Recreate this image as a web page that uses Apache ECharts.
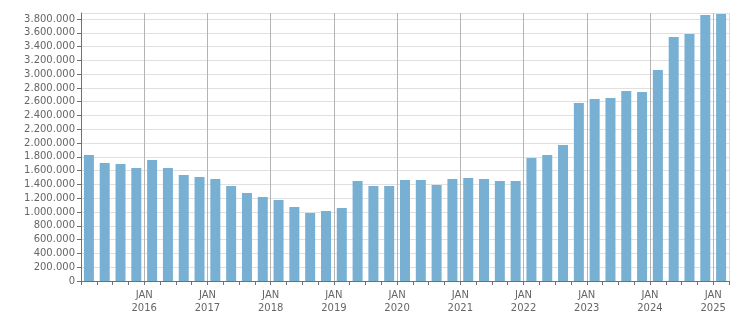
<!DOCTYPE html>
<html>
  <head>
    <meta charset="utf-8">
    <title>Quarterly bars</title>
    <style>
      html, body { margin: 0; padding: 0; background: #fff; }
      #main { width: 751px; height: 313px; }
    </style>
    <script src="https://cdn.jsdelivr.net/npm/echarts@6/dist/echarts.min.js"></script>
  </head>
  <body>
    <div id="main"></div>
    <script type="text/javascript">

      // quarters 2015 Q1 .. 2025 Q1
      var quarters = [
        '2015Q1','2015Q2','2015Q3','2015Q4',
        '2016Q1','2016Q2','2016Q3','2016Q4',
        '2017Q1','2017Q2','2017Q3','2017Q4',
        '2018Q1','2018Q2','2018Q3','2018Q4',
        '2019Q1','2019Q2','2019Q3','2019Q4',
        '2020Q1','2020Q2','2020Q3','2020Q4',
        '2021Q1','2021Q2','2021Q3','2021Q4',
        '2022Q1','2022Q2','2022Q3','2022Q4',
        '2023Q1','2023Q2','2023Q3','2023Q4',
        '2024Q1','2024Q2','2024Q3','2024Q4',
        '2025Q1'
      ]
      var values = [
        1827000, 1711000, 1697000, 1639000,
        1755000, 1639000, 1537000, 1508000,
        1479000, 1378000, 1276000, 1218000,
        1175000, 1073000, 986000, 1015000,
        1059000, 1450000, 1378000, 1378000,
        1465000, 1465000, 1392000, 1479000,
        1494000, 1479000, 1450000, 1450000,
        1784000, 1827000, 1972000, 2582000,
        2640000, 2654000, 2756000, 2741000,
        3060000, 3539000, 3582000, 3858000,
        3872000
      ]
      // year labels sit on the boundary before each year's first quarter
      var firstYear = 2015
      var yearMonth = 'JAN'

      var yMax = 3887000
      var yStep = 200000

      function dots(v) {
        return String(v).replace(/\B(?=(\d{3})+(?!\d))/g, '.')
      }

      var labelFont = { color: '#666', fontFamily: 'DejaVu Sans', fontSize: 10 }

      var yearLineColors = []
      for (var i = 0; i * 4 <= quarters.length; i++) yearLineColors.push('#b4b4b4')
      yearLineColors.push('#dcdcdc')

      var myChart = echarts.init(document.getElementById('main'))
      var option = {
        animation: false,
        grid: { left: 81, right: 22, top: 13, bottom: 32, outerBoundsMode: 'none', containLabel: false },
        xAxis: [
          {
            type: 'category',
            position: 'bottom',
            data: quarters,
            axisLine: { lineStyle: { color: '#707070' } },
            axisTick: { show: true, interval: 0, length: 4, lineStyle: { color: '#707070' } },
            axisLabel: { show: false },
            splitLine: { show: false }
          },
          {
            type: 'value',
            position: 'bottom',
            min: 0,
            max: quarters.length,
            interval: 4,
            axisLine: { show: false },
            axisTick: { show: false },
            axisLabel: Object.assign({
              margin: 8,
              lineHeight: 13,
              align: 'center',
              formatter: function (v) {
                if (v === 0 || v % 4 !== 0) return ''
                return yearMonth + '\n' + (firstYear + v / 4)
              }
            }, labelFont),
            splitLine: { show: true, lineStyle: { color: yearLineColors, width: 1 } }
          }
        ],
        yAxis: {
          type: 'value',
          min: 0,
          max: yMax,
          interval: yStep,
          axisLine: { show: true, lineStyle: { color: '#707070' } },
          axisTick: { show: true, length: 4, lineStyle: { color: '#707070' } },
          axisLabel: Object.assign({
            margin: 6,
            showMaxLabel: false,
            formatter: function (v) {
              return v % yStep === 0 ? dots(v) : ''
            }
          }, labelFont),
          splitLine: { show: true, lineStyle: { color: '#e0e0e0' } }
        },
        series: [{
          type: 'bar',
          xAxisIndex: 0,
          yAxisIndex: 0,
          data: values,
          barWidth: 10,
          itemStyle: { color: '#77b0d3' }
        }]
      }
      myChart.setOption(option)
    </script>
  </body>
</html>
